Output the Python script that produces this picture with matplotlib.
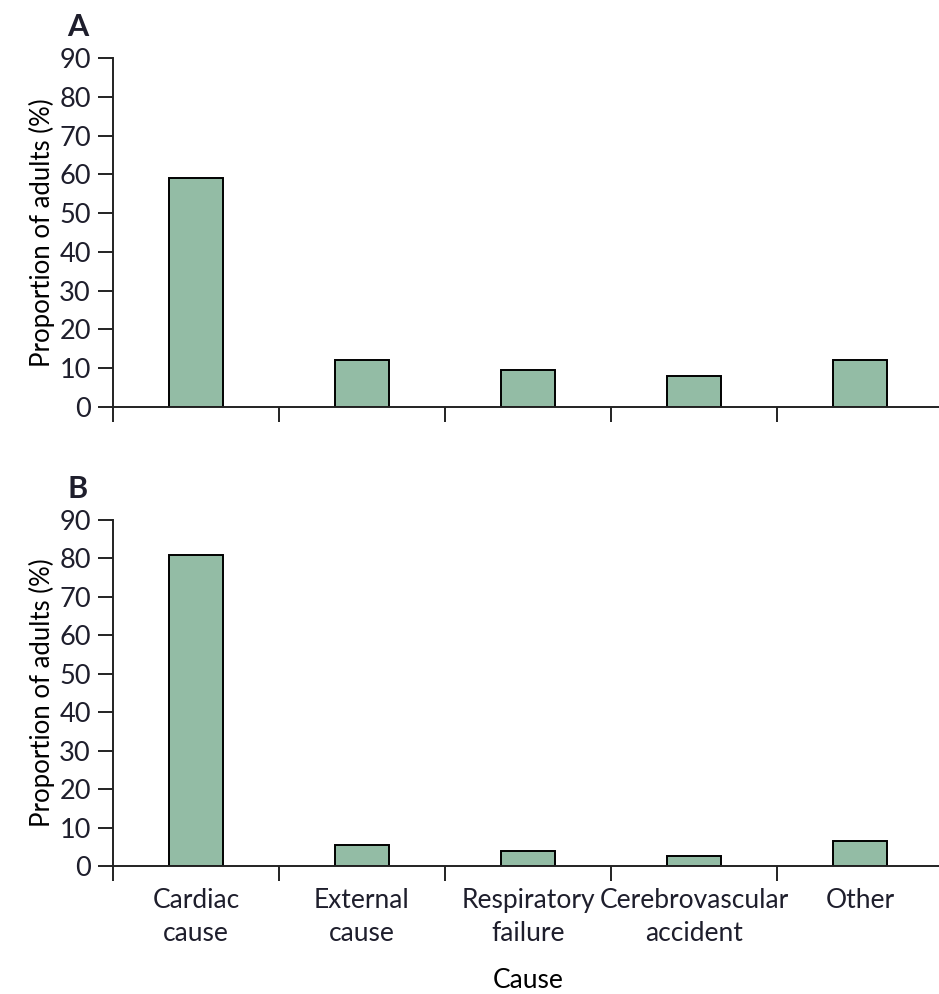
import matplotlib.pyplot as plt
import numpy as np

causes = ['Cardiac\ncause', 'External\ncause', 'Respiratory\nfailure',
          'Cerebrovascular\naccident', 'Other']
panel_a = [59, 12, 9.5, 8, 12]
panel_b = [81, 5.5, 4, 2.5, 6.5]

bar_color = '#93bca5'
text_color = '#1e1e2c'

plt.rcParams['font.family'] = ['Lato', 'DejaVu Sans']
plt.rcParams['text.color'] = text_color

fig = plt.figure(figsize=(9.39, 9.94), dpi=100)
ax_a = fig.add_axes([113 / 939, 1 - 407 / 994, 830 / 939, 349 / 994])
ax_b = fig.add_axes([113 / 939, 1 - 866 / 994, 830 / 939, 346 / 994])


def draw_panel(ax, values, letter, show_labels):
    x = np.arange(len(causes))
    ax.bar(x, values, width=0.32, color=bar_color, edgecolor='black',
           linewidth=1.4, zorder=3)
    ax.set_xlim(-0.5, len(causes) - 0.5)
    ax.set_ylim(0, 90)
    ax.set_yticks(range(0, 91, 10))
    for s in ['top', 'right']:
        ax.spines[s].set_visible(False)
    for s in ['left', 'bottom']:
        ax.spines[s].set_linewidth(1.4)
        ax.spines[s].set_color('#222222')
        ax.spines[s].set_zorder(4)

    # boundary ticks between categories, labels sit on minor ticks
    ax.set_xticks(np.arange(-0.5, len(causes), 1.0))
    ax.set_xticklabels([])
    ax.tick_params(axis='x', which='major', direction='out', length=11,
                   width=1.4, color='#222222')
    ax.set_xticks(x, minor=True)
    if show_labels:
        ax.set_xticklabels(causes, minor=True, fontsize=19,
                           linespacing=1.4, color=text_color)
    ax.tick_params(axis='x', which='minor', length=0, pad=16)
    ax.tick_params(axis='y', direction='out', length=11, width=1.4,
                   color='#222222', labelsize=19.5, labelcolor=text_color,
                   pad=5)
    ax.set_ylabel('Proportion of adults (%)', fontsize=18.5, labelpad=3)
    ax.text(-0.055, 1.05, letter, transform=ax.transAxes, fontsize=22,
            fontweight='bold', ha='left', va='bottom')


draw_panel(ax_a, panel_a, 'A', False)
draw_panel(ax_b, panel_b, 'B', True)
ax_b.set_xlabel('Cause', fontsize=19, labelpad=16)

fig.savefig('out.png', dpi=100)
